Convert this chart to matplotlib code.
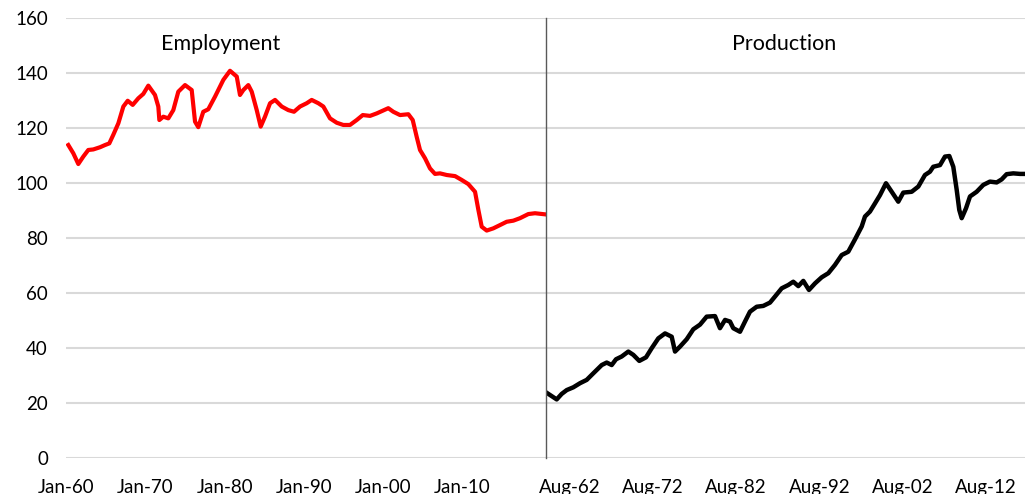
import matplotlib
matplotlib.use("Agg")
import matplotlib.pyplot as plt

plt.rcParams['font.family'] = ['Lato', 'DejaVu Sans']

# Employment series (fractional year, index)
emp_years = [1960.29, 1960.92, 1961.55, 1962.18, 1962.81, 1963.44, 1964.29, 1964.92, 1965.46, 1965.96,
             1966.60, 1967.23, 1967.78, 1968.41, 1969.12, 1969.75, 1970.38, 1971.22, 1971.64, 1971.77,
             1972.27, 1972.90, 1973.53, 1974.16, 1975.01, 1975.85, 1976.27, 1976.68, 1977.31, 1977.94,
             1978.79, 1979.84, 1980.68, 1981.53, 1981.94, 1982.36, 1982.99, 1983.42, 1984.05, 1984.55,
             1985.09, 1985.73, 1986.36, 1987.20, 1988.03, 1988.75, 1989.51, 1990.35, 1990.98, 1991.82,
             1992.45, 1993.29, 1994.14, 1994.97, 1995.81, 1996.66, 1997.42, 1998.34, 1999.18, 1999.95,
             2000.64, 2001.27, 2002.12, 2003.17, 2003.72, 2004.22, 2004.64, 2005.27, 2005.90, 2006.53,
             2007.16, 2008.01, 2009.06, 2009.90, 2010.73, 2011.58, 2012.00, 2012.42, 2013.05, 2013.88,
             2014.73, 2015.57, 2016.41, 2017.25, 2018.30, 2019.14, 2020.40]
emp_values = [113.8, 110.8, 106.9, 109.6, 112.0, 112.2, 113.0, 113.8, 114.4, 117.5,
              121.7, 127.8, 129.9, 128.4, 130.8, 132.4, 135.4, 132.0, 127.8, 122.9,
              124.1, 123.5, 126.5, 133.2, 135.6, 133.8, 122.3, 120.3, 125.9, 126.8,
              131.4, 137.5, 140.8, 138.7, 132.0, 133.8, 135.6, 133.2, 126.5, 120.5,
              124.1, 129.0, 130.2, 127.8, 126.5, 125.9, 127.8, 129.0, 130.2, 129.0,
              127.8, 123.5, 121.9, 121.1, 121.1, 122.9, 124.7, 124.4, 125.3, 126.3,
              127.2, 125.9, 124.7, 125.0, 122.9, 116.8, 112.0, 109.0, 105.3, 103.3,
              103.5, 102.9, 102.5, 101.1, 99.6, 96.8, 90.2, 84.1, 82.7, 83.5,
              84.7, 85.9, 86.3, 87.2, 88.7, 89.0, 88.6]

# Production series (fractional year, index)
prod_years = [1959.78, 1960.38, 1960.98, 1961.58, 1962.19, 1962.98, 1963.79, 1964.59, 1965.39, 1966.40,
              1967.00, 1967.60, 1968.12, 1968.80, 1969.60, 1970.20, 1970.92, 1971.73, 1972.41, 1973.21,
              1974.02, 1974.82, 1975.22, 1975.82, 1976.63, 1977.42, 1978.23, 1979.03, 1980.03, 1980.63,
              1981.24, 1981.84, 1982.23, 1983.04, 1983.64, 1984.24, 1985.05, 1985.84, 1986.65, 1987.25,
              1988.06, 1988.85, 1989.45, 1990.06, 1990.66, 1991.34, 1992.07, 1992.87, 1993.67, 1994.47,
              1995.28, 1996.07, 1996.88, 1997.69, 1998.08, 1998.68, 1999.29, 1999.89, 2000.61, 2001.30,
              2002.09, 2002.69, 2003.70, 2004.50, 2005.30, 2005.90, 2006.30, 2007.11, 2007.71, 2008.23,
              2008.71, 2009.12, 2009.43, 2009.72, 2010.24, 2010.72, 2011.52, 2012.32, 2013.12, 2013.93,
              2014.53, 2015.13, 2015.93, 2016.74, 2017.30]
prod_values = [23.7, 22.5, 21.3, 23.3, 24.7, 25.7, 27.2, 28.4, 30.8, 33.8,
               34.7, 33.8, 35.9, 36.9, 38.7, 37.5, 35.3, 36.6, 39.9, 43.5,
               45.3, 44.1, 38.7, 40.5, 43.2, 46.8, 48.5, 51.4, 51.6, 47.2,
               50.2, 49.6, 47.2, 45.9, 49.6, 53.2, 55.0, 55.3, 56.5, 58.7,
               61.7, 62.9, 64.1, 62.5, 64.4, 61.1, 63.5, 65.7, 67.2, 70.2,
               73.8, 75.0, 79.5, 84.2, 87.8, 89.6, 92.6, 95.6, 99.9, 96.8,
               93.2, 96.5, 96.8, 98.7, 102.9, 104.1, 105.9, 106.5, 109.6, 109.8,
               105.9, 97.5, 90.2, 87.2, 90.8, 95.1, 96.8, 99.3, 100.5, 100.2,
               101.3, 103.2, 103.5, 103.3, 103.3]

emp_ticks = [1960, 1970, 1980, 1990, 2000, 2010]
emp_labels = ['Jan-60', 'Jan-70', 'Jan-80', 'Jan-90', 'Jan-00', 'Jan-10']
prod_ticks = [1962.583, 1972.583, 1982.583, 1992.583, 2002.583, 2012.583]
prod_labels = ['Aug-62', 'Aug-72', 'Aug-82', 'Aug-92', 'Aug-02', 'Aug-12']
y_ticks = [0, 20, 40, 60, 80, 100, 120, 140, 160]

fig = plt.figure(figsize=(10.25, 4.94), dpi=100)
bottom, height = 0.0729, 0.8907
ax1 = fig.add_axes([0.0644, bottom, 0.4683, height])
ax2 = fig.add_axes([0.5327, bottom, 0.4673, height], sharey=ax1)

ax1.plot(emp_years, emp_values, color='#ff0000', linewidth=3.0, solid_joinstyle='round')
ax2.plot(prod_years, prod_values, color='black', linewidth=3.2, solid_joinstyle='round')

ax1.set_xlim(1960.0, 2020.53)
ax2.set_xlim(1959.695, 2017.34)
ax1.set_ylim(0, 160)
ax1.set_yticks(y_ticks)

ax1.set_xticks(emp_ticks)
ax1.set_xticklabels(emp_labels)
ax2.set_xticks(prod_ticks)
ax2.set_xticklabels(prod_labels)

for ax in (ax1, ax2):
    ax.grid(axis='y', color='#d9d9d9', linewidth=1.5)
    ax.set_axisbelow(True)
    for s in ax.spines.values():
        s.set_visible(False)
    ax.tick_params(axis='x', length=0, pad=15, labelsize=13.5, colors='black')
    ax.tick_params(axis='y', length=0, pad=13, labelsize=13.5, colors='black')

ax2.tick_params(axis='y', labelleft=False)
# separator between the two series
ax2.spines['left'].set_visible(True)
ax2.spines['left'].set_color('#595959')
ax2.spines['left'].set_linewidth(1.0)

ax1.text(1979.5, 150.5, 'Employment', ha='center', va='center', fontsize=15.5)
ax2.text(1988.3, 150.5, 'Production', ha='center', va='center', fontsize=15.5)

fig.savefig('out.png', dpi=100)
